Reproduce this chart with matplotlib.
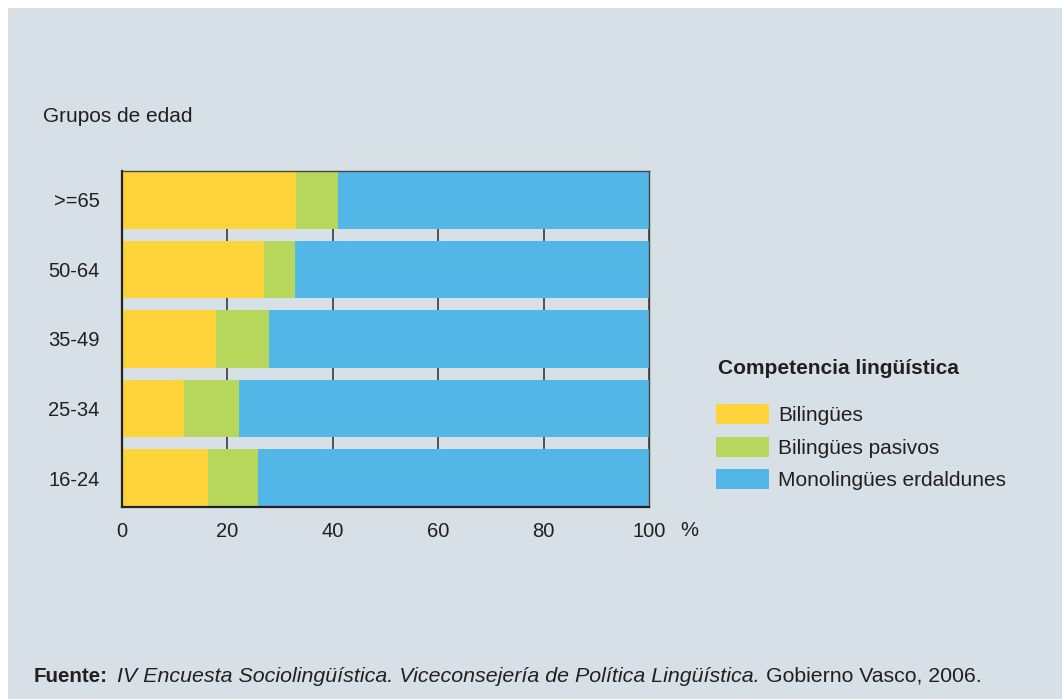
import matplotlib
matplotlib.use('Agg')
import matplotlib.pyplot as plt
from matplotlib.patches import Rectangle

plt.rcParams['font.family'] = ['Liberation Sans', 'DejaVu Sans']

grupos = ['16-24', '25-34', '35-49', '50-64', '>=65']
bilingues = [16.3, 11.8, 17.8, 26.9, 33.0]
pasivos = [9.5, 10.4, 10.1, 5.9, 8.0]
monolingues = [74.2, 77.8, 72.1, 67.2, 59.0]
series_labels = ['Bilingües', 'Bilingües pasivos', 'Monolingües erdaldunes']
xticks = [0, 20, 40, 60, 80, 100]

colors = ['#ffd33a', '#b7d65c', '#52b7e7']
bg = '#d6e0e6'
txt = '#231f20'

W, H = 1062, 699
fig = plt.figure(figsize=(W / 100, H / 100), dpi=100)
fig.patch.set_facecolor('white')
fig.patches.append(Rectangle((8 / W, 0), 1, (H - 8) / H, transform=fig.transFigure,
                             facecolor=bg, edgecolor='none', zorder=-10))

ax = fig.add_axes([122 / W, (H - 507) / H, 527 / W, 336 / H])
ax.set_facecolor(bg)

ypos = list(range(len(grupos)))
h = 0.83
left = [0] * len(grupos)
bars = []
for vals, c, lab in zip([bilingues, pasivos, monolingues], colors, series_labels):
    b = ax.barh(ypos, vals, left=left, height=h, color=c, label=lab, zorder=2)
    bars.append(b)
    left = [l + v for l, v in zip(left, vals)]

ax.set_xlim(0, 100)
ax.set_ylim(-h / 2, len(grupos) - 1 + h / 2)
ax.set_xticks(xticks)
ax.set_yticks(ypos)
ax.set_yticklabels(grupos)
ax.tick_params(axis='both', length=0, labelsize=14.5, labelcolor=txt)
ax.tick_params(axis='x', pad=11)
ax.tick_params(axis='y', pad=16)
ax.grid(axis='x', color='#3a3a3a', linewidth=1.2, zorder=1)
ax.grid(axis='y', visible=False)
ax.set_axisbelow(True)
for side in ['left', 'bottom']:
    ax.spines[side].set_linewidth(1.6)
    ax.spines[side].set_color('#222222')
for side in ['top', 'right']:
    ax.spines[side].set_linewidth(1.0)
    ax.spines[side].set_color('#444444')

fig.text(689 / W, 1 - 531 / H, '%', fontsize=14.5, color=txt, ha='center', va='center')
fig.text(43 / W, 1 - 116 / H, 'Grupos de edad', fontsize=15, color=txt, ha='left', va='center')

fig.text(718 / W, 1 - 368 / H, 'Competencia lingüística', fontsize=15, fontweight='bold',
         color=txt, ha='left', va='center')
fig.legend(handles=bars, labels=series_labels, loc='upper left',
           bbox_to_anchor=(716 / W, 1 - 404 / H), frameon=False, fontsize=15,
           borderpad=0, borderaxespad=0, handlelength=2.55, handleheight=1.1,
           handletextpad=0.45, labelspacing=0.55, labelcolor=txt)

# footer: bold + italic + regular pieces
fy = 1 - 676 / H
t1 = fig.text(34 / W, fy, 'Fuente:', fontsize=14.8, fontweight='bold', color=txt, va='center')
fig.canvas.draw()
r = fig.canvas.get_renderer()
x = t1.get_window_extent(r).x1 + 9
t2 = fig.text(x / W, fy, 'IV Encuesta Sociolingüística. Viceconsejería de Política Lingüística.',
              fontsize=15.4, style='italic', color=txt, va='center')
x = t2.get_window_extent(r).x1 + 6
fig.text(x / W, fy, 'Gobierno Vasco, 2006.', fontsize=15.3, color=txt, va='center')

fig.savefig('out.png', dpi=100, facecolor=fig.get_facecolor())
plt.close(fig)
